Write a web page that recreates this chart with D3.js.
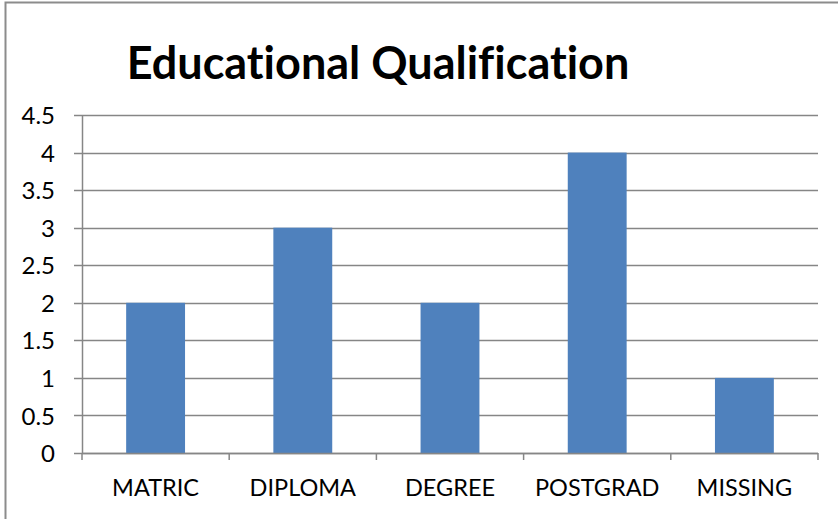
<!DOCTYPE html>
<html>
<head>
<meta charset="utf-8">
<script src="https://cdn.jsdelivr.net/npm/d3@7"></script>
<style>
  body { margin: 0; background: #fff; }
  text { font-family: Lato, "Open Sans", sans-serif; fill: #000; font-variant-ligatures: none; }
</style>
</head>
<body>
<div id="chart"></div>
<script>
const categorias = ["MATRIC", "DIPLOMA", "DEGREE", "POSTGRAD", "MISSING"];
const valores = [2, 3, 2, 4, 1];
const ticksY = [0, 0.5, 1, 1.5, 2, 2.5, 3, 3.5, 4, 4.5];

const width = 838, height = 519;
const margin = {top: 115, right: 20, bottom: 66, left: 82};

const svg = d3.select("#chart")
    .append("svg")
    .attr("width", width)
    .attr("height", height);

// marco del gráfico (solo arriba e izquierda se ven)
svg.append("rect")
    .attr("x", 5.5).attr("y", 2.5)
    .attr("width", width + 20).attr("height", height + 20)
    .attr("fill", "none")
    .attr("stroke", "#8c8c8c")
    .attr("stroke-width", 2);

const x = d3.scaleBand()
    .domain(categorias)
    .range([margin.left, width - margin.right])
    .paddingInner(0.6)
    .paddingOuter(0.3);

const xTicks = d3.scaleBand()
    .domain(categorias)
    .range([margin.left, width - margin.right]);

const y = d3.scaleLinear()
    .domain([0, 4.5])
    .range([height - margin.bottom, margin.top]);

// líneas de cuadrícula
svg.append("g")
    .selectAll("line")
    .data(ticksY)
    .enter()
    .append("line")
    .attr("x1", margin.left - 8)
    .attr("x2", width - margin.right)
    .attr("y1", d => Math.round(y(d)) + 0.5)
    .attr("y2", d => Math.round(y(d)) + 0.5)
    .attr("stroke", "#868686")
    .attr("stroke-width", 1.5);

// barras
svg.selectAll("rect.bar")
    .data(valores)
    .enter()
    .append("rect")
    .attr("class", "bar")
    .attr("x", (d, i) => x(categorias[i]))
    .attr("y", d => y(d))
    .attr("width", x.bandwidth())
    .attr("height", d => y(0) - y(d))
    .attr("fill", "#4f81bd");

// eje Y
const ejeY = svg.append("g")
    .attr("transform", `translate(${margin.left},0)`)
    .call(d3.axisLeft(y).tickValues(ticksY).tickSize(0).tickPadding(27).tickFormat(d3.format("")));
ejeY.select(".domain").attr("stroke", "#868686").attr("stroke-width", 1.5);
ejeY.selectAll("text").attr("font-size", 24).attr("dy", "0.36em").style("font-family", null);

// eje X
const ejeX = svg.append("g")
    .attr("transform", `translate(0,${y(0)})`);
ejeX.append("line")
    .attr("x1", margin.left).attr("x2", width - margin.right)
    .attr("y1", 0.5).attr("y2", 0.5)
    .attr("stroke", "#868686").attr("stroke-width", 1.5);
ejeX.selectAll("line.tick")
    .data(categorias.concat([null]))
    .enter()
    .append("line")
    .attr("class", "tick")
    .attr("x1", (d, i) => d ? xTicks(d) : width - margin.right)
    .attr("x2", (d, i) => d ? xTicks(d) : width - margin.right)
    .attr("y1", 0).attr("y2", 7)
    .attr("stroke", "#868686").attr("stroke-width", 1.5);
ejeX.selectAll("text")
    .data(categorias)
    .enter()
    .append("text")
    .attr("x", d => xTicks(d) + xTicks.bandwidth() / 2)
    .attr("y", 43)
    .attr("text-anchor", "middle")
    .attr("font-size", 23.5)
    .text(d => d);

// título
svg.append("text")
    .attr("x", 378)
    .attr("y", 79)
    .attr("text-anchor", "middle")
    .attr("font-size", 45)
    .attr("font-weight", "bold")
    .text("Educational Qualification");
</script>
</body>
</html>
